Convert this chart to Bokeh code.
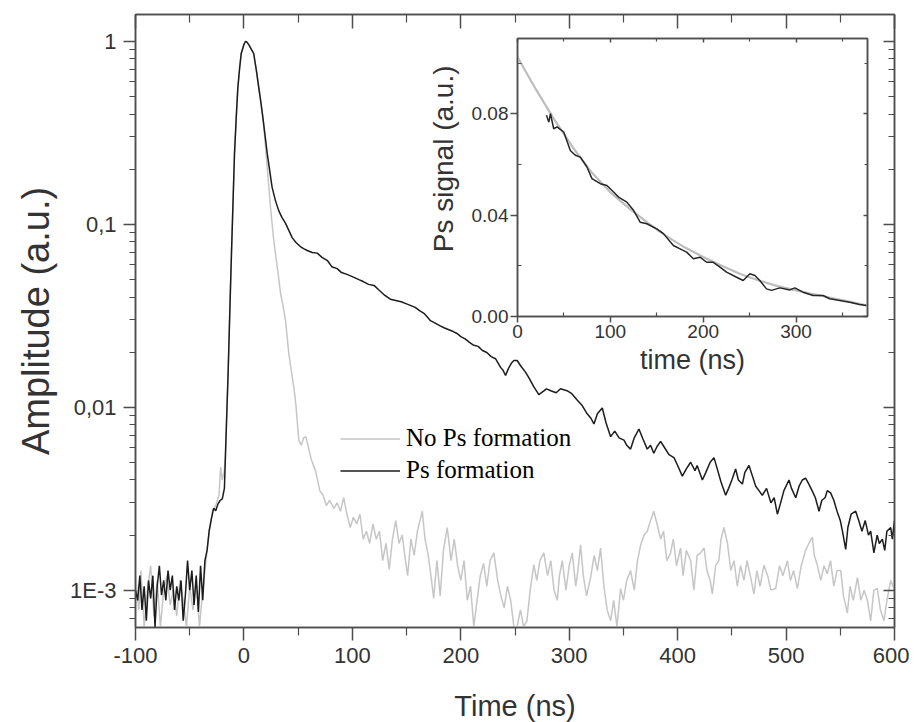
from bokeh.plotting import figure
from bokeh.models import Range1d, LinearAxis, LogAxis, FixedTicker, Legend, LegendItem, ColumnDataSource, Title
from bokeh.layouts import column
from bokeh.embed import file_html
from bokeh.resources import INLINE

# ---------------- data ----------------
PS_FORMATION = [
    (-100, 0.00100), (-98, 0.00088), (-96, 0.00120), (-94, 0.00078), (-92, 0.00105), (-90, 0.00068),
    (-88, 0.00113), (-86, 0.00090), (-84, 0.00120), (-82, 0.00063), (-80, 0.00105), (-78, 0.00136),
    (-76, 0.00094), (-74, 0.00113), (-72, 0.00088), (-70, 0.00128), (-68, 0.00100), (-66, 0.00120),
    (-64, 0.00078), (-62, 0.00105), (-60, 0.00088), (-58, 0.00113), (-56, 0.00068), (-54, 0.00094),
    (-52, 0.00145), (-50, 0.00100), (-48, 0.00128), (-46, 0.00083), (-44, 0.00120), (-42, 0.00076),
    (-40, 0.00136), (-38, 0.00088), (-36, 0.00145), (-34, 0.00165), (-32, 0.00212), (-30, 0.00245),
    (-28, 0.00280), (-26, 0.00272), (-24, 0.00295), (-22, 0.00309), (-20, 0.00315), (-18, 0.0036),
    (-17, 0.0055), (-16, 0.0085), (-14.5, 0.0159), (-13, 0.0337), (-11.5, 0.069), (-10, 0.135),
    (-8.7, 0.243), (-7, 0.393), (-5.6, 0.558), (-4, 0.71), (-2.5, 0.857), (0, 0.96), (1.5, 1.0),
    (3, 0.985), (5, 0.947), (7, 0.90), (9, 0.857), (11.5, 0.69), (13.7, 0.558), (15.8, 0.456),
    (17.8, 0.369), (19.7, 0.298), (21.5, 0.243), (24, 0.192), (26, 0.159), (29, 0.135), (32, 0.119),
    (35, 0.109), (38.4, 0.101), (41.5, 0.0922), (44.6, 0.0842), (48, 0.0795), (52, 0.0755),
    (55, 0.0736), (58.4, 0.0718), (63, 0.070), (67.6, 0.0695), (72, 0.0659), (77, 0.0633),
    (81, 0.0586), (86, 0.0572), (90, 0.0544), (95, 0.0532), (101, 0.0514), (106, 0.0498),
    (110, 0.0486), (115, 0.0469), (120, 0.0463), (125, 0.0434), (130, 0.0408), (135, 0.0389),
    (140, 0.0383), (145, 0.0377), (150, 0.0367), (154, 0.0359), (158, 0.0351), (162, 0.0337),
    (166, 0.0326), (169, 0.0312), (172, 0.0297), (176, 0.0289), (181, 0.0278), (185, 0.0271),
    (189, 0.0265), (193, 0.0259), (197, 0.0252), (200, 0.0243), (204, 0.0236), (208, 0.0226),
    (212, 0.0218), (216, 0.0215), (220, 0.0204), (224, 0.0199), (228, 0.0189), (232, 0.0184),
    (236.7, 0.0165), (239, 0.0159), (241.3, 0.0149), (244, 0.0163), (247, 0.0175), (249, 0.0180),
    (252, 0.0180), (255, 0.0169), (259.8, 0.0155), (263, 0.0144), (267.4, 0.0129), (272, 0.0117),
    (276, 0.0122), (279, 0.0126), (283, 0.0123), (288, 0.0120), (292, 0.0126), (298, 0.0123),
    (302, 0.0119), (307.5, 0.0109), (312, 0.0102), (316, 0.0093), (320, 0.0087), (322.8, 0.0081),
    (326, 0.0092), (330.5, 0.0099), (334, 0.0082), (338.2, 0.0069), (342, 0.0074), (346, 0.0068),
    (350.5, 0.0066), (353, 0.0062), (356.6, 0.0059), (360, 0.0068), (364.3, 0.0076), (368, 0.0067),
    (372, 0.0059), (375, 0.0062), (378, 0.0056), (381, 0.0061), (384.3, 0.0065), (388, 0.0060),
    (392, 0.0055), (396.6, 0.0053), (400, 0.0048), (404.3, 0.0042), (408, 0.0046), (412, 0.0050),
    (416, 0.0045), (418, 0.0048), (422.8, 0.0040), (426, 0.0044), (430, 0.0050), (433.5, 0.0053),
    (437, 0.0045), (440, 0.0039), (444.3, 0.0033), (447, 0.0036), (450, 0.0040), (453.5, 0.0046),
    (456, 0.0040), (459.7, 0.0038), (462, 0.0044), (465.8, 0.0048), (469, 0.0042), (472, 0.0037),
    (475, 0.0035), (478.1, 0.0033), (482, 0.0036), (486, 0.0030), (489, 0.0032), (492, 0.0026),
    (495, 0.0030), (498, 0.0035), (502.7, 0.0040), (505, 0.0036), (508.9, 0.0032), (512, 0.0037),
    (515, 0.0040), (518, 0.0041), (521, 0.0038), (524, 0.0035), (527, 0.0032), (530.4, 0.0027),
    (533, 0.0031), (536, 0.0032), (538, 0.0035), (541.1, 0.0034), (544, 0.0031), (547, 0.0027),
    (550, 0.0024), (552, 0.0021), (555, 0.00167), (557, 0.0022), (560, 0.0026), (564.2, 0.0027),
    (567, 0.0024), (570, 0.0021), (573, 0.0024), (576, 0.0020), (578, 0.0021), (581, 0.0016),
    (584, 0.0020), (586, 0.0018), (588.8, 0.0019), (591, 0.00165), (593, 0.0021), (596.5, 0.0022),
    (598, 0.0019), (600, 0.0024),
]

NO_PS_FORMATION = [
    (-100, 0.0012), (-97, 0.00078), (-95, 0.00128), (-92, 0.00063), (-89, 0.0010), (-86, 0.00136),
    (-83, 0.00072), (-80, 0.00113), (-77, 0.00063), (-74, 0.0010), (-71, 0.0012), (-68, 0.00083),
    (-65, 0.0010), (-62, 0.00072), (-59, 0.00113), (-56, 0.00088), (-53, 0.00063), (-50, 0.00105),
    (-47, 0.00078), (-44, 0.00113), (-41, 0.00063), (-38, 0.0010), (-35, 0.00145), (-32, 0.0021),
    (-29, 0.0027), (-26, 0.0029), (-23, 0.0033), (-21.5, 0.0047), (-20, 0.0040), (-18, 0.0045),
    (-17, 0.0058), (-16, 0.0085), (-14.5, 0.0159), (-13, 0.0337), (-11.5, 0.069), (-10, 0.135),
    (-8.7, 0.243), (-7, 0.393), (-5.6, 0.558), (-4, 0.71), (-2.5, 0.857), (0, 0.96), (1.5, 1.0),
    (3, 0.985), (5, 0.947), (7, 0.90), (9, 0.857), (11.5, 0.69), (13.7, 0.558), (15.8, 0.456),
    (17.8, 0.369), (20, 0.26), (21.5, 0.205), (24.5, 0.124), (27, 0.087), (29.1, 0.0688),
    (31.5, 0.054), (33.8, 0.0418), (36, 0.036), (38.4, 0.0297), (41.4, 0.0196), (44, 0.0154),
    (46, 0.0129), (48, 0.0102), (50.6, 0.0066), (53, 0.0062), (55, 0.0068), (57, 0.0069),
    (59, 0.0062), (62, 0.0052), (66, 0.0045), (70, 0.0035), (73, 0.0033), (76, 0.0029),
    (79, 0.0031), (83, 0.0028), (86, 0.0030), (89, 0.0027), (92, 0.0032), (95, 0.0026),
    (98, 0.0022), (101, 0.0025), (104, 0.0023), (107, 0.0026), (110, 0.0019), (113, 0.0021),
    (116, 0.0018), (119, 0.0023), (122, 0.0019), (125, 0.0021), (128, 0.00145), (131, 0.0018),
    (134, 0.0013), (137, 0.0019), (140, 0.0024), (143, 0.0018), (146, 0.0020), (149, 0.00145),
    (151, 0.0012), (154, 0.0019), (157, 0.00155), (160, 0.0021), (164.5, 0.0027), (167, 0.0019),
    (170, 0.00155), (173, 0.00113), (175, 0.0009), (178, 0.00145), (181, 0.00093), (184, 0.00165),
    (187.5, 0.0022), (191, 0.00145), (194, 0.0019), (197, 0.00137), (200, 0.00113), (203, 0.00145),
    (206, 0.00088), (209, 0.00105), (212, 0.00063), (215, 0.00088), (218, 0.0012), (221, 0.0014),
    (224, 0.00105), (227, 0.00145), (230.5, 0.0016), (234, 0.00113), (237, 0.00093), (240, 0.0008),
    (243, 0.00105), (246, 0.00088), (249, 0.00063), (252, 0.00063), (255, 0.00078), (258, 0.00063),
    (261, 0.00068), (264, 0.0010), (267.4, 0.00138), (270, 0.00113), (273, 0.00145), (276.6, 0.0016),
    (280, 0.0012), (283, 0.00145), (286, 0.0010), (289, 0.00088), (291, 0.0012), (293.6, 0.00145),
    (297, 0.0010), (300, 0.00136), (302.8, 0.0016), (306, 0.00105), (308, 0.00128), (310.5, 0.00177),
    (313, 0.0012), (316, 0.00093), (319.7, 0.00117), (323, 0.00155), (326, 0.00128), (328.9, 0.0017),
    (332, 0.00105), (335, 0.00078), (338.2, 0.00068), (341, 0.00088), (344, 0.00063), (347.4, 0.00102),
    (350, 0.00088), (353, 0.00113), (356.6, 0.00128), (360, 0.0010), (363, 0.00145), (365.9, 0.00177),
    (369, 0.0020), (372, 0.0021), (375, 0.0024), (378, 0.0027), (381, 0.0023), (384.3, 0.0019),
    (387, 0.0021), (390, 0.00145), (393.5, 0.0016), (396, 0.0019), (399, 0.00136), (402.7, 0.0017),
    (405, 0.0012), (408, 0.00165), (412, 0.00145), (415, 0.0010), (418, 0.00155), (421.2, 0.0016),
    (424.4, 0.0017), (427, 0.00128), (430, 0.00113), (432, 0.00095), (435, 0.00136), (438, 0.00145),
    (440, 0.0019), (442.7, 0.0022), (446, 0.0018), (449, 0.00128), (452, 0.00145), (455, 0.00105),
    (458, 0.00136), (461.2, 0.00113), (464, 0.00145), (467, 0.0012), (470.4, 0.00095), (473, 0.00128),
    (476, 0.00105), (479.6, 0.00137), (483, 0.0012), (486, 0.0010), (490.4, 0.00102), (494, 0.00136),
    (497, 0.0012), (501.2, 0.00145), (504, 0.00113), (507, 0.00128), (510.4, 0.00102), (514, 0.00136),
    (518, 0.00165), (521, 0.0018), (524.2, 0.00195), (526, 0.00155), (528.8, 0.00137), (532, 0.00113),
    (535, 0.00136), (538, 0.00123), (541, 0.00145), (544, 0.00105), (547, 0.00128), (550.4, 0.00128),
    (553, 0.00093), (556.5, 0.00075), (559, 0.00105), (562, 0.00088), (565.8, 0.00117), (569, 0.00088),
    (572, 0.0010), (575, 0.00088), (578, 0.00068), (581, 0.0010), (584.2, 0.00102), (587, 0.00078),
    (590.3, 0.00068), (593, 0.00088), (596.5, 0.00113), (600, 0.0010),
]

INSET_PS_SIGNAL = [
    (31.2, 0.0794), (33.7, 0.0767), (35.5, 0.0800), (39, 0.0741), (42.6, 0.0748), (49.8, 0.0728),
    (56.9, 0.0655), (62.3, 0.0636), (67.7, 0.0629), (74.8, 0.0590), (80.2, 0.0544), (89.2, 0.0524),
    (96.3, 0.0517), (103.5, 0.0491), (108.9, 0.0471), (117.8, 0.0451), (125, 0.0419), (132.1, 0.0372),
    (139.3, 0.0366), (150, 0.0346), (157.2, 0.0327), (167.9, 0.0280), (175.1, 0.0267), (182.2, 0.0254),
    (189.4, 0.0228), (196.6, 0.0234), (203.7, 0.0214), (210.9, 0.0214), (218.1, 0.0195), (225.2, 0.0175),
    (236, 0.0155), (243.1, 0.0142), (250.3, 0.0169), (255.7, 0.0162), (261, 0.0142), (268.2, 0.0109),
    (273.6, 0.0103), (282.5, 0.0113), (293.3, 0.0105), (298.7, 0.0113), (307.6, 0.0096), (318.4, 0.0083),
    (329.1, 0.0083), (336.3, 0.0070), (347, 0.0063), (357.8, 0.0056), (368.5, 0.0047), (375.7, 0.0043),
]

INSET_FIT = [
    (0, 0.1024), (20, 0.0895), (40, 0.0775), (60, 0.0665), (80, 0.0568), (100, 0.0490),
    (120, 0.0428), (140, 0.0370), (160, 0.0318), (180, 0.0273), (200, 0.0235), (220, 0.0200),
    (240, 0.0168), (260, 0.0142), (280, 0.0120), (300, 0.0103), (320, 0.0087), (340, 0.0072),
    (360, 0.0057), (377, 0.0043),
]

X_TICKS = [-100, 0, 100, 200, 300, 400, 500, 600]
X_TICK_LABELS = ["-100", "0", "100", "200", "300", "400", "500", "600"]
X_MINOR = [-50, 50, 150, 250, 350, 450, 550]
Y_TICKS = [0.001, 0.01, 0.1, 1.0]
Y_TICK_LABELS = ["1E-3", "0,01", "0,1", "1"]
Y_MINOR = [m * 10.0 ** e for e in (-4, -3, -2, -1, 0) for m in range(2, 10)]

IN_X_TICKS = [0, 100, 200, 300]
IN_X_MINOR = [50, 150, 250, 350]
IN_Y_TICKS = [0.0, 0.04, 0.08]
IN_Y_TICK_LABELS = ["0.00", "0.04", "0.08"]
IN_Y_MINOR = [0.02, 0.06, 0.10]

LEGEND_LABELS = ["No Ps formation", "Ps formation"]

# ---------------- styling ----------------
AX = "#4d4d4d"
TXT = "#333333"
SANS = "Liberation Sans"
BLACK = "#1c1c1c"
GREY = "#c6c6c6"
BORDER_L, BORDER_R = 135, 15


def src(points):
    return ColumnDataSource(dict(t=[a for a, _ in points], v=[b for _, b in points]))


def style_axis(ax, font_size, label_size):
    ax.axis_line_color = AX
    ax.axis_line_width = 1.5
    ax.major_tick_line_color = AX
    ax.major_tick_line_width = 1.5
    ax.minor_tick_line_color = AX
    ax.minor_tick_line_width = 1.2
    ax.major_label_text_font = SANS
    ax.major_label_text_font_size = font_size
    ax.major_label_text_color = TXT
    ax.axis_label_text_font = SANS
    ax.axis_label_text_font_size = label_size
    ax.axis_label_text_font_style = "normal"
    ax.axis_label_text_color = TXT


def mirror(ax):
    # a mirror axis: same ticks, no visible labels
    ax.axis_line_color = AX
    ax.axis_line_width = 1.5
    ax.major_tick_line_color = AX
    ax.major_tick_line_width = 1.5
    ax.minor_tick_line_color = AX
    ax.minor_tick_line_width = 1.2
    ax.major_label_text_font_size = "2px"
    ax.major_label_text_alpha = 0
    ax.major_label_standoff = 0


# ---------------- main plot ----------------
p = figure(frame_width=759, frame_height=613, y_axis_type="log",
           x_range=Range1d(-100, 600), y_range=Range1d(6.25e-4, 1.40),
           output_backend="svg", toolbar_location=None,
           min_border_left=BORDER_L, min_border_right=BORDER_R, min_border_top=14, min_border_bottom=87,
           background_fill_color="white", border_fill_color="white")
p.xgrid.visible = False
p.ygrid.visible = False
p.outline_line_color = AX
p.outline_line_width = 1.5

rg = p.line("t", "v", source=src(NO_PS_FORMATION), line_color=GREY, line_width=1.5)
rb = p.line("t", "v", source=src(PS_FORMATION), line_color=BLACK, line_width=1.5)

xa = p.xaxis[0]
xa.ticker = FixedTicker(ticks=X_TICKS, minor_ticks=X_MINOR)
xa.major_label_overrides = dict(zip(X_TICKS, X_TICK_LABELS))
style_axis(xa, "22px", "29px")
xa.axis_label = "Time (ns)"
xa.major_tick_out, xa.major_tick_in = 13, 0
xa.minor_tick_out, xa.minor_tick_in = 8, 0
xa.major_label_standoff = 7
xa.axis_label_standoff = 24

ya = p.yaxis[0]
ya.ticker = FixedTicker(ticks=Y_TICKS, minor_ticks=Y_MINOR)
ya.major_label_overrides = dict(zip(Y_TICKS, Y_TICK_LABELS))
style_axis(ya, "22px", "38px")
ya.axis_label = "Amplitude (a.u.)"
ya.major_tick_out, ya.major_tick_in = 12, 0
ya.minor_tick_out, ya.minor_tick_in = 6, 0
ya.major_label_standoff = 7
ya.axis_label_standoff = 10

top = LinearAxis(ticker=FixedTicker(ticks=X_TICKS, minor_ticks=X_MINOR))
mirror(top)
top.major_tick_out, top.major_tick_in = 0, 14
top.minor_tick_out, top.minor_tick_in = 0, 8
p.add_layout(top, "above")

right = LogAxis(ticker=FixedTicker(ticks=Y_TICKS, minor_ticks=Y_MINOR))
mirror(right)
right.major_tick_out, right.major_tick_in = 0, 11
right.minor_tick_out, right.minor_tick_in = 0, 6
p.add_layout(right, "right")

legend = Legend(items=[LegendItem(label=LEGEND_LABELS[0], renderers=[rg]),
                       LegendItem(label=LEGEND_LABELS[1], renderers=[rb])],
                location=(205, 143), orientation="vertical",
                glyph_width=60, glyph_height=27, label_height=27,
                label_standoff=6, spacing=4, padding=0, margin=0,
                border_line_color=None, background_fill_alpha=0,
                label_text_font="Liberation Serif", label_text_font_size="25px",
                label_text_color="black")
p.add_layout(legend)

# ---------------- inset ----------------
# (borders equal to the main plot's, since the column aligns them)
ins = figure(frame_width=350, frame_height=278,
             x_range=Range1d(0, 377), y_range=Range1d(0, 0.1097),
             output_backend="svg", toolbar_location=None,
             min_border_left=BORDER_L, min_border_right=BORDER_R, min_border_top=8, min_border_bottom=64,
             background_fill_color="white", border_fill_color=None)
ins.xgrid.visible = False
ins.ygrid.visible = False
ins.outline_line_color = AX
ins.outline_line_width = 1.5

ins.line("t", "v", source=src(INSET_FIT), line_color="#bdbdbd", line_width=2.2)
ins.line("t", "v", source=src(INSET_PS_SIGNAL), line_color="#262626", line_width=1.5)

ixa = ins.xaxis[0]
ixa.ticker = FixedTicker(ticks=IN_X_TICKS, minor_ticks=IN_X_MINOR)
style_axis(ixa, "19px", "27px")
ixa.axis_label = "time (ns)"
ixa.major_tick_out, ixa.major_tick_in = 6, 0
ixa.minor_tick_out, ixa.minor_tick_in = 0, 4
ixa.major_label_standoff = 2
ixa.axis_label_standoff = 4

iya = ins.yaxis[0]
iya.ticker = FixedTicker(ticks=IN_Y_TICKS, minor_ticks=IN_Y_MINOR)
iya.major_label_overrides = dict(zip(IN_Y_TICKS, IN_Y_TICK_LABELS))
style_axis(iya, "19px", "28px")
iya.major_tick_out, iya.major_tick_in = 7, 0
iya.minor_tick_out, iya.minor_tick_in = 0, 4
iya.major_label_standoff = 2

# y label of the inset as a side title, its end placed a little below the frame's top
ins.add_layout(Title(text="Ps signal (a.u.)", align="right", offset=27, standoff=20,
                     text_font=SANS, text_font_size="28px", text_font_style="normal",
                     text_color=TXT), "left")

itop = LinearAxis(ticker=FixedTicker(ticks=IN_X_TICKS, minor_ticks=IN_X_MINOR))
mirror(itop)
itop.major_tick_out, itop.major_tick_in = 0, 4
itop.minor_tick_out, itop.minor_tick_in = 0, 3
ins.add_layout(itop, "above")

iright = LinearAxis(ticker=FixedTicker(ticks=IN_Y_TICKS, minor_ticks=IN_Y_MINOR))
mirror(iright)
iright.major_tick_out, iright.major_tick_in = 0, 4
iright.minor_tick_out, iright.minor_tick_in = 0, 3
ins.add_layout(iright, "right")

ins.styles = {"position": "absolute", "left": f"{517 - BORDER_L}px", "top": "30px"}

layout = column(p, ins, styles={"position": "relative"})

open("out.html", "w").write(file_html(layout, INLINE))
